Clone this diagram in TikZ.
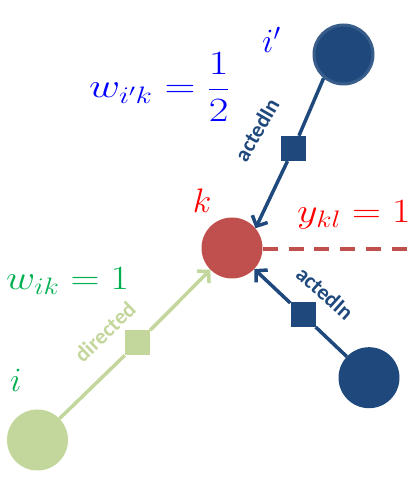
\RequirePackage{fix-cm}
\documentclass[tikz,border=0pt]{standalone}
\usepackage{fontspec}
\usepackage{graphicx}
\newfontfamily\lblfont{Carlito}
\usetikzlibrary{arrows.meta}
\definecolor{kred}{HTML}{C0504D}
\definecolor{nblue}{HTML}{1F497D}
\definecolor{nring}{HTML}{385D8A}
\definecolor{ngreen}{HTML}{C3D69B}
\definecolor{tgreen}{HTML}{00B050}
\newcommand{\eqx}[2][1.18]{\scalebox{#1}[1]{$\displaystyle #2$}}
\begin{document}
\begin{tikzpicture}[x=1pt,y=1pt,>={Straight Barb[length=8pt,width=17pt]},
  vert/.style={circle,inner sep=0pt,minimum size=61pt},
  sqbox/.style={rectangle,inner sep=0pt,minimum size=25pt},
  rel/.style={font=\lblfont\bfseries\fontsize{22}{24}\selectfont},
  eqn/.style={font=\fontsize{34}{40}\selectfont,inner sep=0pt}]
\useasboundingbox (0,0) rectangle (415,485);
\node[vert,fill=kred] (k) at (232,237) {};
\node[vert,fill=nblue,draw=nring,line width=3pt,minimum size=59pt] (ip) at (343.5,430.5) {};
\node[vert,fill=nblue] (ib) at (369,107.3) {};
\node[vert,fill=ngreen] (i) at (37.5,45) {};
\node[sqbox,fill=nblue] (s1) at (293.5,336.5) {};
\node[sqbox,fill=nblue] (s3) at (303,170) {};
\node[sqbox,fill=ngreen] (s2) at (137.5,142) {};
\coordinate (lend) at (408,236);
\draw[nblue,line width=3.5pt,->] (ip.230) -- (s1) -- (k.40);
\draw[nblue,line width=3.5pt,->] (ib) -- (s3) -- (k);
\draw[ngreen,line width=3.5pt,->] (i) -- (s2) -- (k);
\draw[kred,line width=3.7pt,dash pattern=on 15pt off 10.8pt] (k.east |- lend) -- (lend);
\node[rel,nblue,rotate=60] (r1) at (256.7,355) {actedIn};
\node[rel,nblue,rotate=-42] (r3) at (325,191.7) {actedIn};
\node[rel,ngreen,rotate=44] (r2) at (105,153.3) {directed};
\node[eqn,red] (lk) at (202,284) {$k$};
\node[eqn,blue,anchor=base west] (lip) at (262,432) {$i'$};
\node[eqn,tgreen,anchor=base west] (li) at (10,93.3) {$i$};
\node[eqn,tgreen,anchor=base west] (wik) at (6,195.7) {\eqx{w_{ik}=1}};
\node[eqn,red,anchor=base west] (ykl) at (297,262.7) {\eqx{y_{kl}=1}};
\node[eqn,blue,anchor=base west] (wipk) at (89,387) {\eqx[1.26]{w_{i'k}=\frac{1}{2}}};
\end{tikzpicture}
\end{document}
